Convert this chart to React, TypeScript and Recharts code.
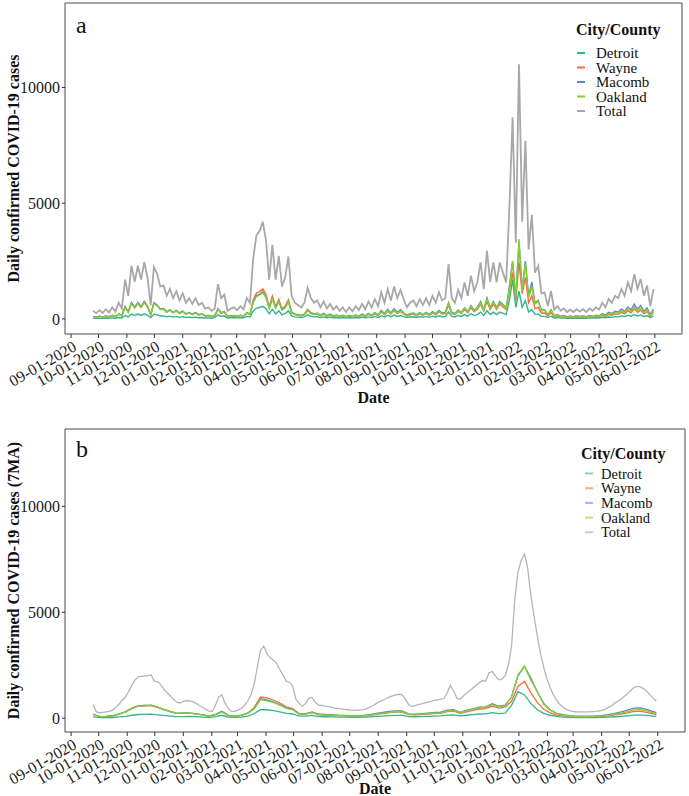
import React from 'react';
import { LineChart, Line, XAxis, YAxis, ReferenceArea, Legend } from 'recharts';

const SERIF = "'Liberation Serif', 'Times New Roman', Times, serif";

// x axis: days after 2020-09-01
const monthTickDays = [0, 30, 61, 91, 122, 153, 181, 212, 242, 273, 303, 334, 365, 395, 426, 456, 487, 518, 546, 577, 607, 638];
const monthTickLabels = ['09-01-2020', '10-01-2020', '11-01-2020', '12-01-2020', '01-01-2021', '02-01-2021', '03-01-2021', '04-01-2021', '05-01-2021', '06-01-2021', '07-01-2021', '08-01-2021', '09-01-2021', '10-01-2021', '11-01-2021', '12-01-2021', '01-01-2022', '02-01-2022', '03-01-2022', '04-01-2022', '05-01-2022', '06-01-2022'];
const yTicks = [0, 5000, 10000];
const seriesNames = ['Detroit', 'Wayne', 'Macomb', 'Oakland', 'Total'];
const seriesColors = ['#2DB88A', '#FF6A3D', '#6482D6', '#84D12A', '#A8A8A8'];

// first observation day (2020-09-25) and sampling step (half week)
const FIRST_DAY = 24;
const STEP = 3.5;

// Panel a: daily confirmed cases (sampled twice per week)
const totalDaily = [350,250,380,260,420,280,500,320,700,450,1700,1000,2300,1600,2300,1700,2450,1800,600,2250,
1950,1400,1450,1000,1300,900,1200,800,1100,700,900,650,900,600,700,450,500,350,450,1500,
900,1050,350,450,500,380,550,420,900,700,2600,3600,3800,4200,3400,1700,3200,1700,2730,1400,
1800,2700,1000,700,600,500,700,1350,900,700,800,500,750,450,650,400,550,350,500,300,
500,330,550,380,650,420,750,500,850,550,1150,700,1290,800,1400,900,1250,850,500,700,
800,550,860,600,900,600,1000,700,1150,800,900,2370,900,700,1250,900,1580,1000,1870,1200,
1600,2440,1290,2940,1600,2440,1580,2440,2000,1580,4800,8700,3300,11000,4200,7700,3000,4500,2000,2300,
1100,1150,560,1200,400,550,350,450,300,400,300,420,320,420,300,450,350,500,400,700,
500,860,700,1000,900,1290,1000,1580,1200,1940,1300,1730,1000,1440,560,1290];
const macombDaily = [110,80,120,80,130,85,155,100,215,140,530,310,710,500,710,530,760,560,185,700,
600,430,450,310,400,280,370,250,340,220,280,200,280,185,215,140,155,110,135,450,
270,315,105,135,150,115,165,125,270,210,730,1010,1065,1175,950,475,895,475,765,390,
505,755,280,195,170,140,195,380,250,195,255,160,240,145,210,130,175,110,160,95,
160,105,175,120,210,135,240,160,270,175,370,225,415,255,450,290,400,270,160,225,
255,175,275,190,290,190,320,225,370,255,290,700,290,225,390,280,490,310,580,370,
495,755,400,910,495,755,490,755,620,490,1400,2500,900,3300,1300,2500,1000,1600,700,800,
380,400,190,400,140,190,115,150,100,130,100,140,105,140,100,150,115,165,130,230,
165,285,230,330,300,425,330,520,395,640,430,570,330,475,185,425];
const wayneDaily = [100,75,115,80,125,85,150,95,210,135,510,300,690,480,690,510,735,540,180,675,
585,420,435,300,390,270,360,240,330,210,270,195,270,180,210,135,150,105,125,420,
250,295,100,125,140,105,155,120,250,195,805,1115,1180,1300,1055,525,990,525,845,435,
560,835,310,215,185,155,215,420,280,215,210,130,195,115,170,105,145,90,130,80,
130,85,145,100,170,110,195,130,220,145,300,180,335,210,365,235,325,220,130,180,
210,145,225,155,235,155,260,180,300,210,235,600,235,180,325,235,410,260,485,310,
415,635,335,765,415,635,410,635,520,410,1200,2000,800,2450,1100,1800,700,1000,450,500,
250,260,130,280,90,130,75,100,65,90,65,90,70,90,65,100,75,110,90,155,
110,190,155,220,200,285,220,350,265,425,285,380,220,315,125,285];
const oaklandDaily = [100,70,110,75,120,80,145,95,205,130,490,290,670,460,670,490,710,520,175,650,
565,405,420,290,380,260,350,230,320,200,260,190,260,175,205,130,145,100,125,420,
250,295,100,125,140,105,155,120,250,195,700,970,1025,1135,920,460,865,460,735,380,
485,730,270,190,160,135,190,365,245,190,225,140,210,125,180,110,155,100,140,85,
140,90,155,105,180,120,210,140,240,155,320,195,360,225,390,250,350,240,140,195,
225,155,240,170,250,170,280,195,320,225,250,680,250,195,360,260,460,290,540,350,
465,710,375,855,465,710,460,710,580,460,1300,2500,900,3450,1200,2400,900,1400,650,750,
350,370,180,380,120,170,95,120,80,110,80,115,85,115,80,120,95,135,110,190,
135,230,190,270,245,350,270,425,325,525,350,465,270,390,150,350];
const detroitDaily = [35,25,35,25,40,25,45,30,65,40,150,90,210,145,210,155,220,160,55,200,
175,125,130,90,120,80,110,70,100,65,80,60,80,55,65,40,45,30,55,180,
110,125,40,55,60,45,65,50,110,85,340,470,495,545,440,220,415,220,355,180,
235,350,130,90,80,65,90,175,115,90,95,60,90,55,80,50,65,40,60,35,
60,40,65,45,80,50,90,60,100,65,140,85,155,95,170,110,150,100,60,85,
95,65,105,70,110,70,120,85,140,95,110,300,110,85,150,110,190,120,225,145,
190,295,155,355,190,295,190,295,240,190,800,1700,500,1200,500,800,300,400,200,220,
110,110,60,120,45,55,35,45,30,40,30,40,30,40,30,45,35,50,40,70,
50,85,70,100,90,130,100,160,120,195,130,175,100,145,55,130];

// Panel b: 7-day moving average. Total sampled twice per week, counties weekly (+ last day)
const totalMA = [650,300,260,280,300,320,380,500,650,850,1000,1250,1550,1800,1950,1980,2000,2000,2050,1750,
1720,1600,1360,1200,1050,900,760,720,800,830,820,780,700,600,520,420,330,320,600,1000,
1100,700,450,320,320,380,460,600,800,1100,1600,2400,3200,3400,3050,2850,2750,2600,2300,2050,
1750,1700,1500,900,700,560,700,950,980,750,620,600,570,550,520,480,460,440,420,400,
380,370,370,390,410,450,530,600,700,780,850,930,1000,1050,1100,1130,1100,900,650,550,
600,640,680,720,760,800,840,870,900,930,1200,1550,1300,950,900,1050,1180,1300,1430,1560,
1680,1780,1750,2150,2200,2000,1820,1850,2000,2500,3400,5600,6900,7450,7750,7100,5800,4800,3900,3050,
2400,1850,1450,1100,850,650,520,420,360,320,300,300,300,300,300,310,320,340,370,420,
500,580,700,800,900,1030,1150,1300,1450,1500,1480,1400,1270,1100,950,800];
const macombMA = [200,80,90,115,195,300,465,585,600,610,520,410,310,225,240,245,210,155,100,180,
330,135,95,140,240,450,920,860,770,640,490,420,195,195,275,200,180,165,145,135,
120,120,130,170,225,270,320,350,350,210,190,220,245,270,290,380,410,280,365,445,
520,540,680,565,620,1000,2000,2450,1900,1250,700,400,230,170,120,100,100,100,105,120,
165,230,300,380,480,490,420,315,265];
const wayneMA = [190,75,90,115,195,300,465,585,600,600,510,400,310,225,235,245,210,155,95,170,
300,125,90,130,225,500,1000,960,860,720,540,460,215,215,300,160,150,135,120,110,
100,95,105,140,180,220,260,285,285,170,155,175,200,220,235,310,340,235,305,370,
435,455,570,475,520,800,1500,1750,1200,750,420,250,150,115,80,65,65,65,70,80,
110,155,200,250,320,325,280,210,175];
const oaklandMA = [180,75,85,110,190,290,450,565,580,620,530,420,320,230,240,245,205,150,95,165,
300,125,90,130,225,430,880,820,740,620,470,400,190,190,265,175,160,145,130,120,
105,105,115,150,195,240,280,310,310,180,170,190,215,235,250,340,370,260,340,415,
490,510,640,530,580,1000,2050,2450,1800,1250,660,380,220,140,95,80,80,80,85,100,
135,190,245,310,390,400,345,255,215];
const detroitMA = [80,30,30,35,60,90,140,175,180,190,160,130,100,75,80,85,75,55,40,75,
140,55,40,55,95,210,400,400,360,300,230,200,95,95,130,75,70,65,55,50,
45,45,50,65,85,100,120,130,130,80,70,80,90,100,110,150,160,110,140,170,
200,210,265,220,240,600,1250,1100,700,400,230,140,90,55,40,30,30,30,35,40,
50,70,90,115,145,150,130,95,80];

const X_DOMAIN: [number, number] = [-6.65, 667.65];
const Y_DOMAIN: [number, number] = [-650, 13650];

const rowsA = totalDaily.map((t, i) => ({
  day: FIRST_DAY + i * STEP,
  Detroit: detroitDaily[i],
  Wayne: wayneDaily[i],
  Macomb: macombDaily[i],
  Oakland: oaklandDaily[i],
  Total: t,
}));

const rowsB = totalMA.map((t, i) => {
  const last = i === totalMA.length - 1;
  const k = last ? macombMA.length - 1 : i % 2 === 0 ? i / 2 : -1;
  const pick = (arr: number[]) => (k >= 0 ? arr[k] : null);
  return {
    day: FIRST_DAY + i * STEP,
    Detroit: pick(detroitMA),
    Wayne: pick(wayneMA),
    Macomb: pick(macombMA),
    Oakland: pick(oaklandMA),
    Total: t,
  };
});

const MonthTick = (props: any) => {
  const { x, y, payload } = props;
  const idx = monthTickDays.indexOf(payload.value);
  return (
    <g transform={`translate(${x + 1},${y}) rotate(-30)`}>
      <text x={0} y={0} dy="0.7em" textAnchor="end" fontSize={16} fontFamily={SERIF} fill="#1a1a1a">
        {idx >= 0 ? monthTickLabels[idx] : ''}
      </text>
    </g>
  );
};

const YTitle = (props: any) => {
  const { viewBox, text } = props;
  const cy = viewBox.y + viewBox.height / 2;
  return (
    <text x={13} y={cy} transform={`rotate(-90, 13, ${cy})`} textAnchor="middle" dominantBaseline="central"
      fontSize={16} fontWeight="bold" fontFamily={SERIF} fill="#111">
      {text}
    </text>
  );
};

const XTitle = (props: any) => {
  const { viewBox, dy } = props;
  return (
    <text x={viewBox.x + viewBox.width / 2} y={viewBox.y + dy} textAnchor="middle"
      fontSize={16} fontWeight="bold" fontFamily={SERIF} fill="#111">
      Date
    </text>
  );
};

const PanelLetter = (props: any) => {
  const { viewBox, letter, dy } = props;
  return (
    <text x={viewBox.x + 11} y={viewBox.y + dy} fontSize={24} fontFamily={SERIF} fill="#111">
      {letter}
    </text>
  );
};

const LegendBox = (props: any) => {
  const { titleX, titleY, keyX, textX, firstY, gap, keyOpacity, itemSize } = props;
  return (
    <svg width={119} height={112} style={{ display: 'block', overflow: 'visible' }}>
      <text x={titleX} y={titleY} fontSize={16} fontWeight="bold" fontFamily={SERIF} fill="#111">City/County</text>
      {seriesNames.map((n, i) => (
        <g key={n}>
          <line x1={keyX} x2={keyX + 8} y1={firstY + i * gap - 5} y2={firstY + i * gap - 5}
            stroke={seriesColors[i]} strokeWidth={2} strokeOpacity={keyOpacity} />
          <text x={textX} y={firstY + i * gap} fontSize={itemSize} fontFamily={SERIF} fill="#111">{n}</text>
        </g>
      ))}
    </svg>
  );
};

const commonXAxis = (height: number, labelDy: number) => (
  <XAxis
    type="number"
    dataKey="day"
    domain={X_DOMAIN}
    allowDataOverflow
    ticks={monthTickDays}
    interval={0}
    axisLine={false}
    tickLine={{ stroke: '#333' }}
    tickSize={4}
    tickMargin={2}
    height={height}
    tick={<MonthTick />}
    label={<XTitle dy={labelDy} />}
  />
);

export default function App() {
  const lineWidthsA = [1.4, 1.4, 1.4, 1.4, 1.8];
  return (
    <div style={{ position: 'absolute', left: 0, top: 0, width: 689, height: 796, background: '#fff' }}>
      <div style={{ position: 'absolute', left: 0, top: 0 }}>
        <LineChart width={689} height={410} data={rowsA} margin={{ top: 3, right: 7, left: 0, bottom: 0 }}>
          {commonXAxis(76, 69)}
          <YAxis
            type="number"
            domain={Y_DOMAIN}
            allowDataOverflow
            ticks={yTicks}
            width={65}
            axisLine={false}
            tickLine={{ stroke: '#333' }}
            tickSize={3}
            tickMargin={2}
            tick={{ fontSize: 16, fontFamily: SERIF, fill: '#1a1a1a' }}
            label={<YTitle text="Daily confirmed COVID-19 cases" />}
          />
          <ReferenceArea x1={X_DOMAIN[0]} x2={X_DOMAIN[1]} y1={Y_DOMAIN[0]} y2={Y_DOMAIN[1]}
            fill="none" stroke="#4a4a4a" strokeWidth={1} fillOpacity={0}
            label={<PanelLetter letter="a" dy={30} />} />
          {seriesNames.map((n, i) => (
            <Line key={n} type="linear" dataKey={n} stroke={seriesColors[i]} strokeWidth={lineWidthsA[i]}
              dot={false} isAnimationActive={false} />
          ))}
          <Legend layout="vertical" align="center" verticalAlign="middle"
            wrapperStyle={{ position: 'absolute', left: 570, top: 15, width: 119, height: 112 }}
            content={() => <LegendBox titleX={6} titleY={20} keyX={7} textX={26} firstY={43} gap={14.5} keyOpacity={1} itemSize={15} />} />
        </LineChart>
      </div>
      <div style={{ position: 'absolute', left: 0, top: 410 }}>
        <LineChart width={689} height={386} data={rowsB} margin={{ top: 19, right: 4, left: 0, bottom: 0 }}>
          {commonXAxis(64, 62)}
          <YAxis
            type="number"
            domain={Y_DOMAIN}
            allowDataOverflow
            ticks={yTicks}
            width={65}
            axisLine={false}
            tickLine={{ stroke: '#333' }}
            tickSize={3}
            tickMargin={2}
            tick={{ fontSize: 16, fontFamily: SERIF, fill: '#1a1a1a' }}
            label={<YTitle text="Daily confirmed COVID-19 cases (7MA)" />}
          />
          <ReferenceArea x1={X_DOMAIN[0]} x2={X_DOMAIN[1]} y1={Y_DOMAIN[0]} y2={Y_DOMAIN[1]}
            fill="none" stroke="#4a4a4a" strokeWidth={1} fillOpacity={0}
            label={<PanelLetter letter="b" dy={28} />} />
          {seriesNames.map((n, i) => (
            <Line key={n} type="linear" dataKey={n} stroke={i === 4 ? '#B5B5B5' : seriesColors[i]} strokeWidth={1.3}
              dot={false} connectNulls isAnimationActive={false} />
          ))}
          <Legend layout="vertical" align="center" verticalAlign="middle"
            wrapperStyle={{ position: 'absolute', left: 570, top: 30, width: 119, height: 112 }}
            content={() => <LegendBox titleX={11} titleY={19} keyX={15} textX={31} firstY={38.5} gap={14.7} keyOpacity={0.6} itemSize={14.5} />} />
        </LineChart>
      </div>
    </div>
  );
}
